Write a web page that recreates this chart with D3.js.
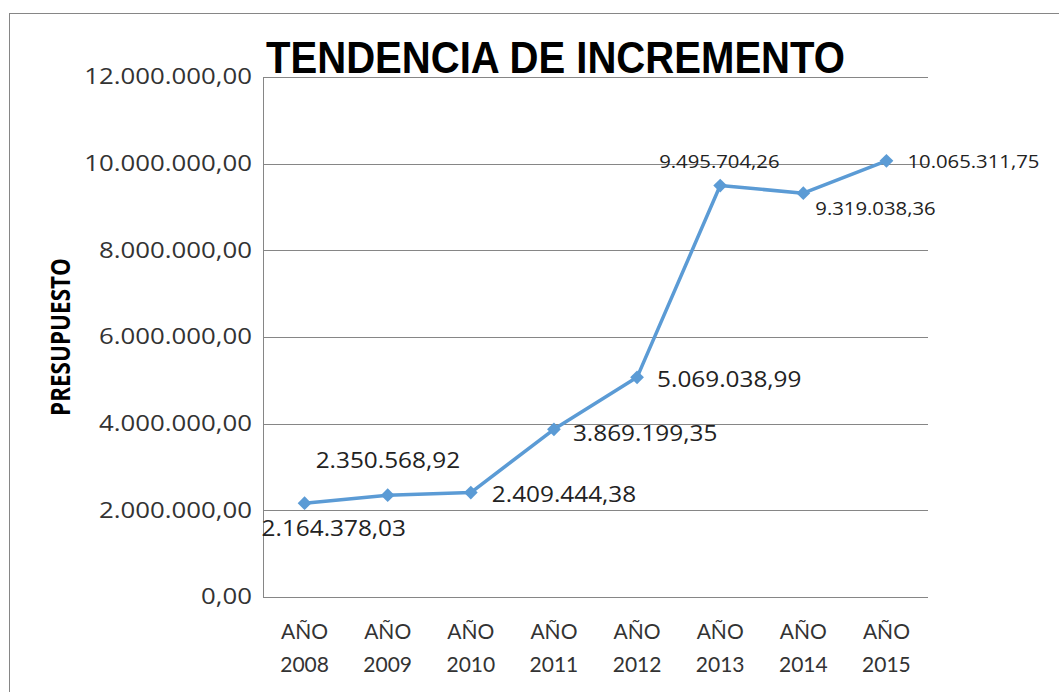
<!DOCTYPE html>
<html>
<head>
<meta charset="utf-8">
<script src="https://cdn.jsdelivr.net/npm/d3@7"></script>
<style>
  body { margin: 0; background: #fff; }
  svg { display: block; }
</style>
</head>
<body>
<div id="chart"></div>
<script>
// data
const years = ["2008", "2009", "2010", "2011", "2012", "2013", "2014", "2015"];
const budget = [2164378.03, 2350568.92, 2409444.38, 3869199.35, 5069038.99, 9495704.26, 9319038.36, 10065311.75];
const yTicks = [0, 2000000, 4000000, 6000000, 8000000, 10000000, 12000000];

// where each value label sits relative to its point (dx, dy, big font?)
const labelPlace = [
  [-43, 33, true], [-72, -27, true], [21, 9, true], [19, 12, true],
  [20, 10, true], [-61, -18, false], [12, 22, false], [21, 7, false]
];

const width = 1059, height = 692;
const margin = { top: 77, right: 131, bottom: 95, left: 263 };
const blue = "#5B9BD5", grid = "#868686";
const sx = 1.16; // text in the picture is slightly stretched sideways

const es = d3.formatLocale({ decimal: ",", thousands: ".", grouping: [3], currency: ["", ""] });
const fmt = es.format(",.2f");

const svg = d3.select("#chart")
  .append("svg")
  .attr("width", width)
  .attr("height", height);

// outer chart border (right and bottom fall outside the picture)
svg.append("rect")
  .attr("x", 9.5).attr("y", 13.5)
  .attr("width", width).attr("height", height)
  .attr("fill", "none").attr("stroke", grid);

const x = d3.scaleBand()
  .domain(years)
  .range([margin.left, width - margin.right]);

const y = d3.scaleLinear()
  .domain([0, 12000000])
  .range([height - margin.bottom, margin.top]);

// gridlines
svg.append("g")
  .selectAll("line")
  .data(yTicks)
  .join("line")
  .attr("x1", margin.left).attr("x2", width - margin.right)
  .attr("y1", d => Math.round(y(d)) + 0.5).attr("y2", d => Math.round(y(d)) + 0.5)
  .attr("stroke", grid);

// vertical axis line
svg.append("line")
  .attr("x1", margin.left + 0.5).attr("x2", margin.left + 0.5)
  .attr("y1", y(12000000)).attr("y2", y(0))
  .attr("stroke", grid);

// y axis labels
const yAxis = svg.append("g")
  .attr("transform", `translate(${margin.left},0)`)
  .call(d3.axisLeft(y).tickValues(yTicks).tickFormat(fmt).tickSize(0));
yAxis.select(".domain").remove();
yAxis.selectAll("text")
  .attr("x", -11 / 1.2)
  .attr("transform", "scale(1.2,1)")
  .attr("font-family", "Open Sans")
  .attr("font-size", 21.5)
  .attr("fill", "#333");

// x axis labels, two lines each
const xAxis = svg.append("g")
  .attr("transform", `translate(0,${height - margin.bottom})`)
  .call(d3.axisBottom(x).tickSize(0));
xAxis.select(".domain").remove();
xAxis.selectAll("text")
  .text(null)
  .attr("y", 0)
  .attr("dy", null)
  .attr("font-family", "Lato")
  .attr("font-size", 21)
  .attr("fill", "#333")
  .call(t => {
    t.append("tspan").attr("x", 0).attr("y", 42).text("AÑO");
    t.append("tspan").attr("x", 0).attr("y", 75).text(d => d);
  });

// line
const line = d3.line()
  .x((d, i) => x(years[i]) + x.bandwidth() / 2)
  .y(d => y(d));

svg.append("path")
  .datum(budget)
  .attr("d", line)
  .attr("fill", "none")
  .attr("stroke", blue)
  .attr("stroke-width", 3.5)
  .attr("stroke-linejoin", "round");

// markers
svg.append("g")
  .selectAll("path")
  .data(budget)
  .join("path")
  .attr("d", d3.symbol(d3.symbolSquare, 95))
  .attr("transform", (d, i) => `translate(${x(years[i]) + x.bandwidth() / 2},${y(d)}) rotate(45)`)
  .attr("fill", blue);

// value labels
svg.append("g")
  .selectAll("text")
  .data(budget)
  .join("text")
  .attr("transform", (d, i) => {
    const p = labelPlace[i];
    return `translate(${x(years[i]) + x.bandwidth() / 2 + p[0]},${y(d) + p[1]}) scale(${sx},1)`;
  })
  .attr("font-family", "Open Sans")
  .attr("font-size", (d, i) => labelPlace[i][2] ? 21 : 17.5)
  .attr("fill", "#222")
  .text(d => fmt(d));

// title
svg.append("text")
  .attr("x", 266)
  .attr("y", 73)
  .attr("font-family", "Liberation Sans")
  .attr("font-weight", "bold")
  .attr("font-size", 45)
  .attr("textLength", 579)
  .attr("lengthAdjust", "spacingAndGlyphs")
  .attr("fill", "#000")
  .text("TENDENCIA DE INCREMENTO");

// y axis title
svg.append("text")
  .attr("transform", "translate(70,337) rotate(-90) scale(1,1.2)")
  .attr("text-anchor", "middle")
  .attr("font-family", "Open Sans")
  .attr("font-weight", "bold")
  .attr("font-size", 22.5)
  .attr("fill", "#000")
  .text("PRESUPUESTO");
</script>
</body>
</html>
